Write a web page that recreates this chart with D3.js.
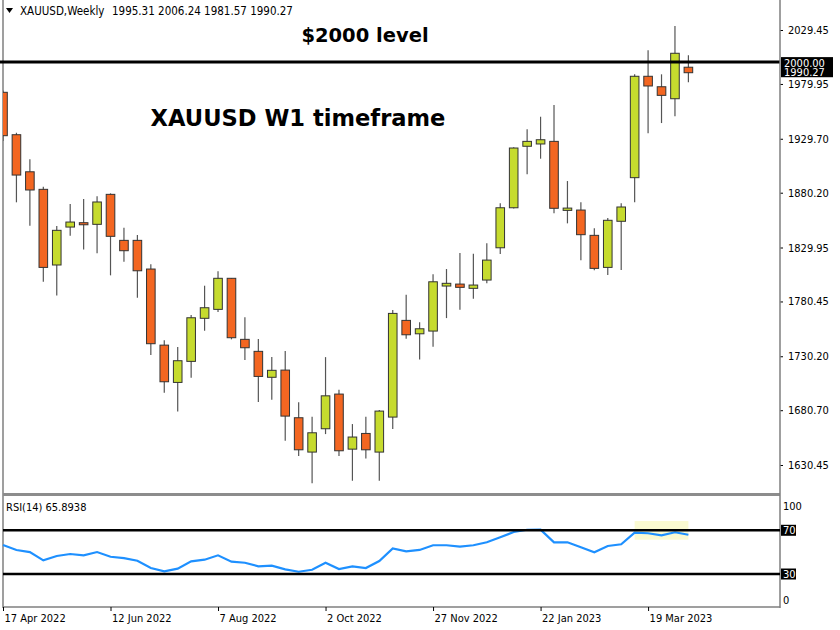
<!DOCTYPE html>
<html><head><meta charset="utf-8">
<script src="https://cdn.jsdelivr.net/npm/d3@7"></script>
<style>body{margin:0;background:#fff} text{font-family:"DejaVu Sans Condensed","DejaVu Sans",sans-serif;}</style>
</head><body><svg id="c" width="840" height="630"></svg>
<script>
// ---- data ----
const startDate = "2022-04-17";
const openP  = [1972.3,1933.4,1899.4,1883.3,1813.9,1848.7,1852.7,1851.2,1878.7,1836.5,1836.5,1810.2,1740.4,1706.2,1725.5,1765.0,1773.2,1801.7,1745.7,1734.7,1710.9,1717.5,1673.8,1642.3,1663.7,1695.5,1645.0,1659.4,1642.3,1674.4,1763.1,1750.8,1753.3,1794.6,1796.4,1792.5,1800.1,1829.7,1866.4,1922.8,1924.9,1927.3,1864.0,1864.3,1841.1,1811.7,1854.0,1894.0,1987.0,1977.4,1966.4,1995.31];
const highP  = [1974.0,1935.2,1910.8,1885.7,1849.6,1869.8,1874.4,1876.9,1879.6,1848.1,1841.4,1814.5,1744.8,1738.6,1768.0,1794.9,1808.1,1802.0,1765.9,1746.0,1729.4,1735.0,1687.9,1674.7,1729.4,1699.4,1668.0,1674.7,1680.8,1772.6,1786.6,1761.3,1805.3,1810.2,1824.9,1824.2,1833.8,1870.5,1921.8,1938.3,1949.9,1960.6,1890.9,1871.4,1847.5,1857.0,1870.5,1988.8,2010.8,1988.8,2033.1,2006.24];
const lowP   = [1927.6,1871.4,1849.9,1798.5,1786.0,1840.7,1828.2,1824.6,1804.4,1816.9,1783.9,1731.3,1696.7,1679.6,1710.5,1753.6,1770.7,1745.7,1726.7,1688.2,1690.3,1652.7,1638.6,1613.6,1658.8,1638.6,1616.0,1636.5,1616.0,1663.4,1746.2,1727.3,1738.9,1765.2,1772.9,1782.9,1797.1,1823.9,1865.8,1897.1,1911.4,1861.3,1852.1,1818.2,1809.0,1804.7,1809.3,1871.4,1934.7,1944.1,1950.3,1981.57];
const closeP = [1932.5,1896.4,1882.7,1811.7,1845.7,1853.3,1850.8,1871.7,1840.2,1827.0,1808.6,1741.7,1706.8,1726.1,1765.5,1774.7,1801.7,1747.2,1738.0,1711.7,1717.3,1675.3,1644.4,1660.0,1693.9,1643.5,1656.1,1644.4,1679.9,1769.5,1749.9,1755.4,1798.5,1797.1,1793.4,1795.5,1818.4,1866.4,1921.2,1927.3,1928.8,1865.9,1866.1,1841.7,1810.8,1854.9,1867.1,1987.0,1978.1,1969.5,2008.1,1990.27];
const rsiV   = [56.5,52,50.1,42.5,46.5,48.3,47.1,50.1,45.8,44.6,42.2,35.5,32.5,34.9,41.6,43.1,47.1,41.3,40.3,37,37.6,34.3,32.1,33.9,40.3,34.6,37,35.5,41.9,53.5,50.8,52,56.3,56.3,55,56.3,59,63.6,68.4,70.5,70.6,59,59,54.4,49.9,55.6,57.2,67.8,67.3,65.4,68.2,65.89];
const dateTicks  = ["2022-04-17","2022-06-12","2022-08-07","2022-10-02","2022-11-27","2023-01-22","2023-03-19"];
const priceTicks = [2029.45,1979.95,1929.70,1880.20,1829.95,1780.45,1730.20,1680.70,1630.45];
const rsiTicks   = [100,70,30,0];
const rsiLevels  = [70,30];
const levelPrice = 2000.00;
const lastPrice  = 1990.27;
const headerSym  = "XAUUSD,Weekly";
const headerOHLC = "1995.31 2006.24 1981.57 1990.27";
const rsiLabel   = "RSI(14) 65.8938";
const title1 = "$2000 level", title2 = "XAUUSD W1 timeframe";
const highlight = {from:47, to:51, hi:78.5, lo:61.4};

// ---- build ----
const parse = d3.utcParse("%Y-%m-%d");
const t0 = parse(startDate);
const dates = openP.map((_, i) => d3.utcDay.offset(t0, 7*i));
const candles = dates.map((d,i)=>({d, o:openP[i], h:highP[i], l:lowP[i], c:closeP[i]}));

const svg = d3.select("#c");
const L = 3, R = 780;
const x = d3.scaleUtc().domain([dates[0], dates[51]]).range([3, 688.4]);
const y = d3.scaleLinear().domain([1630.45, 2029.45]).range([465, 30]);
const yr = d3.scaleLinear().domain([0, 100]).range([606.8, 497.5]);
const bw = 8.6;

svg.append("defs").append("clipPath").attr("id","clipM").append("rect").attr("x",L).attr("y",2).attr("width",R-L).attr("height",491);
svg.append("defs").append("clipPath").attr("id","clipR").append("rect").attr("x",0).attr("y",497).attr("width",R).attr("height",110);

const gray = "#7f7f7f";
// frame
svg.append("line").attr("x1",L).attr("x2",L).attr("y1",0).attr("y2",608).attr("stroke",gray).attr("stroke-width",1.5);
svg.append("line").attr("x1",L).attr("x2",R).attr("y1",494.5).attr("y2",494.5).attr("stroke","#8c8c8c").attr("stroke-width",3);
svg.append("line").attr("x1",L).attr("x2",R).attr("y1",607).attr("y2",607).attr("stroke",gray).attr("stroke-width",1.5);

// header
svg.append("path").attr("d","M6,8 L13,8 L9.5,13 Z").attr("fill","#000");
svg.append("text").attr("x",20).attr("y",15).attr("font-size",11.5).attr("fill","#000").text(headerSym);
svg.append("text").attr("x",112).attr("y",15).attr("font-size",11.5).attr("fill","#000").text(headerOHLC);

// titles
svg.append("text").attr("x",365).attr("y",42).attr("text-anchor","middle").attr("font-size",19.5).attr("font-weight","bold").style("font-family","'DejaVu Sans',sans-serif").text(title1);
svg.append("text").attr("x",298).attr("y",126).attr("text-anchor","middle").attr("font-size",22.6).attr("font-weight","bold").style("font-family","'DejaVu Sans',sans-serif").text(title2);

// candles
const gC = svg.append("g").attr("clip-path","url(#clipM)");
const cg = gC.selectAll("g.c").data(candles).join("g");
cg.append("line").attr("x1",d=>x(d.d)).attr("x2",d=>x(d.d)).attr("y1",d=>y(d.h)).attr("y2",d=>y(d.l)).attr("stroke","#555").attr("stroke-width",1.2);
cg.append("rect").attr("x",d=>x(d.d)-bw/2).attr("width",bw)
  .attr("y",d=>y(Math.max(d.o,d.c))).attr("height",d=>Math.max(2,Math.abs(y(d.o)-y(d.c))))
  .attr("fill",d=>d.c>=d.o?"#c6db2e":"#f36621").attr("stroke","#333").attr("stroke-width",1);

// 2000 level
svg.append("line").attr("x1",0).attr("x2",R).attr("y1",y(levelPrice)).attr("y2",y(levelPrice)).attr("stroke","#000").attr("stroke-width",3);

// price axis
const ay = svg.append("g").attr("transform",`translate(${R},0)`).call(d3.axisRight(y).tickValues(priceTicks).tickFormat(d3.format(".2f")).tickSize(3).tickPadding(5));
ay.select(".domain").remove();
svg.append("line").attr("x1",R).attr("x2",R).attr("y1",0).attr("y2",608).attr("stroke",gray).attr("stroke-width",1.5);
ay.selectAll("text").attr("font-size",11).attr("fill","#000").style("font-family","'DejaVu Sans Condensed','DejaVu Sans',sans-serif");
ay.selectAll("line").attr("stroke","#000");

// price labels
function priceTag(v, yy, h){
  const g = svg.append("g");
  g.append("rect").attr("x",R+1).attr("y",yy-h/2).attr("width",52).attr("height",h).attr("fill","#000");
  g.append("text").attr("x",R+4).attr("y",yy+4).attr("font-size",11).attr("fill","#fff").text(d3.format(".2f")(v));
}
priceTag(lastPrice, y(lastPrice)-0.5, 10);
priceTag(levelPrice, y(levelPrice)+0.5, 11);

// RSI panel
svg.append("text").attr("x",6).attr("y",511).attr("font-size",11).text(rsiLabel);
const gR = svg.append("g").attr("clip-path","url(#clipR)");
gR.append("rect").attr("x",x(dates[highlight.from])).attr("width",x(dates[highlight.to])-x(dates[highlight.from]))
  .attr("y",yr(highlight.hi)).attr("height",yr(highlight.lo)-yr(highlight.hi)).attr("fill","#fafad2");
gR.append("path").datum(rsiV).attr("d",d3.line().x((d,i)=>x(dates[i])).y(d=>yr(d))).attr("fill","none").attr("stroke","#1e90ff").attr("stroke-width",2.2);
rsiLevels.forEach(v=>{
  svg.append("line").attr("x1",L).attr("x2",R).attr("y1",yr(v)).attr("y2",yr(v)).attr("stroke","#000").attr("stroke-width",2.5);
});
// rsi axis labels
const ar = svg.append("g");
rsiTicks.forEach(v=>{
  const isLvl = rsiLevels.includes(v);
  const yy = v===100 ? yr(v)+8 : v===0 ? yr(v)-7 : yr(v);
  if(isLvl){
    ar.append("rect").attr("x",R+1).attr("y",yy-5.5).attr("width",15).attr("height",11).attr("fill","#000");
  }
  ar.append("text").attr("x",R+3).attr("y",yy+4).attr("font-size",11).attr("fill",isLvl?"#fff":"#000").text(v);
});

// time axis
const ax = svg.append("g").attr("transform","translate(0,607)").call(d3.axisBottom(x).tickValues(dateTicks.map(parse)).tickFormat(d3.utcFormat("%-d %b %Y")).tickSize(4).tickPadding(3));
ax.select(".domain").remove();
ax.selectAll("line").attr("stroke","#000");
ax.selectAll("text").attr("text-anchor","start").attr("dx",1).attr("font-size",11).attr("fill","#000").style("font-family","'DejaVu Sans Condensed','DejaVu Sans',sans-serif");
</script>
</body></html>
